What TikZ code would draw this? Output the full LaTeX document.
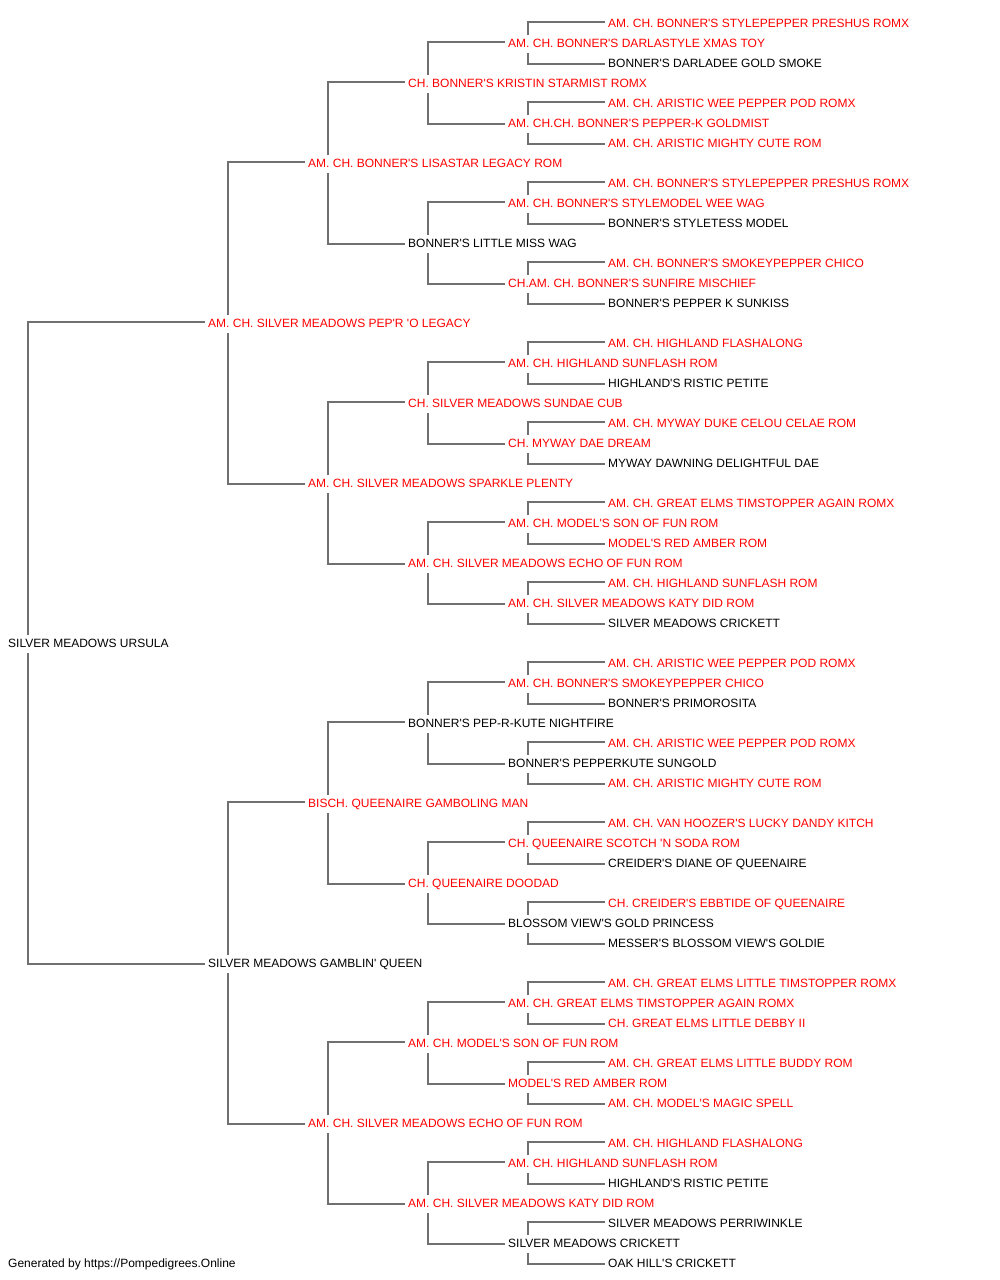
\documentclass[tikz,border=0pt]{standalone}
\usepackage{fontspec}
\setmainfont{Liberation Sans}[Ligatures=TeXOff]
\begin{document}
\begin{tikzpicture}[x=1pt,y=-1pt,
  dog/.style={anchor=base west,inner xsep=3pt,inner ysep=2pt,text height=10.3pt,text depth=3.7pt,font=\fontsize{12}{14}\selectfont},
  rd/.style={dog,text={rgb,255:red,255;green,0;blue,0}},
  bk/.style={dog,text=black},
  link/.style={draw={rgb,255:red,112;green,112;blue,112},line width=1.6pt}]
\useasboundingbox (0,0) rectangle (1000,1280);
% generation x: g0 5, g1 205, g2 305, g3 405, g4 505, g5 605 ; baseline = 27.5 + 20k
\node[rd] (r0) at (605,27.5) {AM. CH. BONNER'S STYLEPEPPER PRESHUS ROMX};
\node[rd] (r1) at (505,47.5) {AM. CH. BONNER'S DARLASTYLE XMAS TOY};
\node[bk] (r2) at (605,67.5) {BONNER'S DARLADEE GOLD SMOKE};
\node[rd] (r3) at (405,87.5) {CH. BONNER'S KRISTIN STARMIST ROMX};
\node[rd] (r4) at (605,107.5) {AM. CH. ARISTIC WEE PEPPER POD ROMX};
\node[rd] (r5) at (505,127.5) {AM. CH.CH. BONNER'S PEPPER-K GOLDMIST};
\node[rd] (r6) at (605,147.5) {AM. CH. ARISTIC MIGHTY CUTE ROM};
\node[rd] (r7) at (305,167.5) {AM. CH. BONNER'S LISASTAR LEGACY ROM};
\node[rd] (r8) at (605,187.5) {AM. CH. BONNER'S STYLEPEPPER PRESHUS ROMX};
\node[rd] (r9) at (505,207.5) {AM. CH. BONNER'S STYLEMODEL WEE WAG};
\node[bk] (r10) at (605,227.5) {BONNER'S STYLETESS MODEL};
\node[bk] (r11) at (405,247.5) {BONNER'S LITTLE MISS WAG};
\node[rd] (r12) at (605,267.5) {AM. CH. BONNER'S SMOKEYPEPPER CHICO};
\node[rd] (r13) at (505,287.5) {CH.AM. CH. BONNER'S SUNFIRE MISCHIEF};
\node[bk] (r14) at (605,307.5) {BONNER'S PEPPER K SUNKISS};
\node[rd] (r15) at (205,327.5) {AM. CH. SILVER MEADOWS PEP'R 'O LEGACY};
\node[rd] (r16) at (605,347.5) {AM. CH. HIGHLAND FLASHALONG};
\node[rd] (r17) at (505,367.5) {AM. CH. HIGHLAND SUNFLASH ROM};
\node[bk] (r18) at (605,387.5) {HIGHLAND'S RISTIC PETITE};
\node[rd] (r19) at (405,407.5) {CH. SILVER MEADOWS SUNDAE CUB};
\node[rd] (r20) at (605,427.5) {AM. CH. MYWAY DUKE CELOU CELAE ROM};
\node[rd] (r21) at (505,447.5) {CH. MYWAY DAE DREAM};
\node[bk] (r22) at (605,467.5) {MYWAY DAWNING DELIGHTFUL DAE};
\node[rd] (r23) at (305,487.5) {AM. CH. SILVER MEADOWS SPARKLE PLENTY};
\node[rd] (r24) at (605,507.5) {AM. CH. GREAT ELMS TIMSTOPPER AGAIN ROMX};
\node[rd] (r25) at (505,527.5) {AM. CH. MODEL'S SON OF FUN ROM};
\node[rd] (r26) at (605,547.5) {MODEL'S RED AMBER ROM};
\node[rd] (r27) at (405,567.5) {AM. CH. SILVER MEADOWS ECHO OF FUN ROM};
\node[rd] (r28) at (605,587.5) {AM. CH. HIGHLAND SUNFLASH ROM};
\node[rd] (r29) at (505,607.5) {AM. CH. SILVER MEADOWS KATY DID ROM};
\node[bk] (r30) at (605,627.5) {SILVER MEADOWS CRICKETT};
\node[bk] (r31) at (5,647.5) {SILVER MEADOWS URSULA};
\node[rd] (r32) at (605,667.5) {AM. CH. ARISTIC WEE PEPPER POD ROMX};
\node[rd] (r33) at (505,687.5) {AM. CH. BONNER'S SMOKEYPEPPER CHICO};
\node[bk] (r34) at (605,707.5) {BONNER'S PRIMOROSITA};
\node[bk] (r35) at (405,727.5) {BONNER'S PEP-R-KUTE NIGHTFIRE};
\node[rd] (r36) at (605,747.5) {AM. CH. ARISTIC WEE PEPPER POD ROMX};
\node[bk] (r37) at (505,767.5) {BONNER'S PEPPERKUTE SUNGOLD};
\node[rd] (r38) at (605,787.5) {AM. CH. ARISTIC MIGHTY CUTE ROM};
\node[rd] (r39) at (305,807.5) {BISCH. QUEENAIRE GAMBOLING MAN};
\node[rd] (r40) at (605,827.5) {AM. CH. VAN HOOZER'S LUCKY DANDY KITCH};
\node[rd] (r41) at (505,847.5) {CH. QUEENAIRE SCOTCH 'N SODA ROM};
\node[bk] (r42) at (605,867.5) {CREIDER'S DIANE OF QUEENAIRE};
\node[rd] (r43) at (405,887.5) {CH. QUEENAIRE DOODAD};
\node[rd] (r44) at (605,907.5) {CH. CREIDER'S EBBTIDE OF QUEENAIRE};
\node[bk] (r45) at (505,927.5) {BLOSSOM VIEW'S GOLD PRINCESS};
\node[bk] (r46) at (605,947.5) {MESSER'S BLOSSOM VIEW'S GOLDIE};
\node[bk] (r47) at (205,967.5) {SILVER MEADOWS GAMBLIN' QUEEN};
\node[rd] (r48) at (605,987.5) {AM. CH. GREAT ELMS LITTLE TIMSTOPPER ROMX};
\node[rd] (r49) at (505,1007.5) {AM. CH. GREAT ELMS TIMSTOPPER AGAIN ROMX};
\node[rd] (r50) at (605,1027.5) {CH. GREAT ELMS LITTLE DEBBY II};
\node[rd] (r51) at (405,1047.5) {AM. CH. MODEL'S SON OF FUN ROM};
\node[rd] (r52) at (605,1067.5) {AM. CH. GREAT ELMS LITTLE BUDDY ROM};
\node[rd] (r53) at (505,1087.5) {MODEL'S RED AMBER ROM};
\node[rd] (r54) at (605,1107.5) {AM. CH. MODEL'S MAGIC SPELL};
\node[rd] (r55) at (305,1127.5) {AM. CH. SILVER MEADOWS ECHO OF FUN ROM};
\node[rd] (r56) at (605,1147.5) {AM. CH. HIGHLAND FLASHALONG};
\node[rd] (r57) at (505,1167.5) {AM. CH. HIGHLAND SUNFLASH ROM};
\node[bk] (r58) at (605,1187.5) {HIGHLAND'S RISTIC PETITE};
\node[rd] (r59) at (405,1207.5) {AM. CH. SILVER MEADOWS KATY DID ROM};
\node[bk] (r60) at (605,1227.5) {SILVER MEADOWS PERRIWINKLE};
\node[bk] (r61) at (505,1247.5) {SILVER MEADOWS CRICKETT};
\node[bk] (r62) at (605,1267.5) {OAK HILL'S CRICKETT};
\node[bk] (footer) at (5,1267.5) {Generated by https://Pompedigrees.Online};
% upper children (sire side)
\foreach \c/\p in {0/1,4/5,8/9,12/13,16/17,20/21,24/25,28/29,32/33,36/37,40/41,44/45,48/49,52/53,56/57,60/61,
  1/3,9/11,17/19,25/27,33/35,41/43,49/51,57/59,3/7,19/23,35/39,51/55,7/15,39/47,15/31}
  \draw[link] ([yshift=2pt]r\c.west) -| ([xshift=23pt]r\p.north west);
% lower children (dam side)
\foreach \c/\p in {2/1,6/5,10/9,14/13,18/17,22/21,26/25,30/29,34/33,38/37,42/41,46/45,50/49,54/53,58/57,62/61,
  5/3,13/11,21/19,29/27,37/35,45/43,53/51,61/59,11/7,27/23,43/39,59/55,23/15,55/47,47/31}
  \draw[link] (r\c.west) -| ([xshift=23pt]r\p.south west);
\end{tikzpicture}
\end{document}
